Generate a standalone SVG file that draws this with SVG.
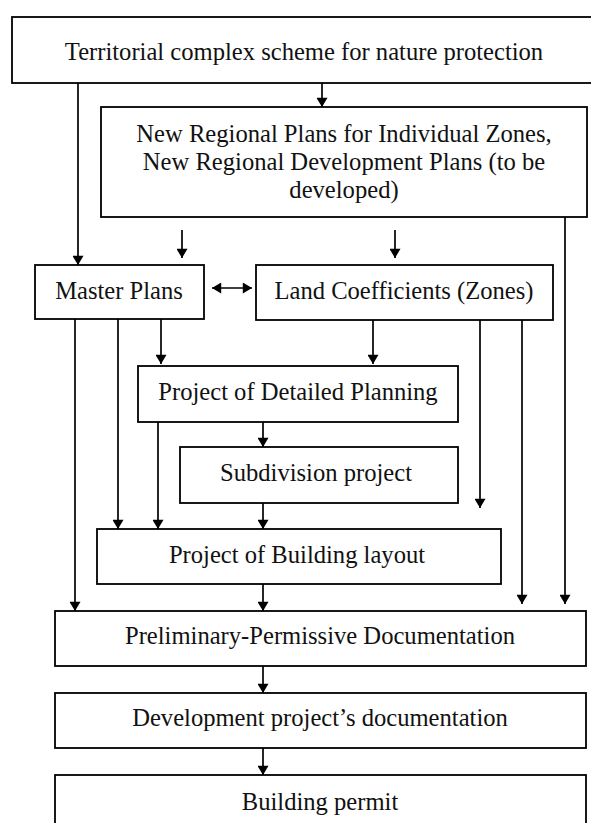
<svg xmlns="http://www.w3.org/2000/svg" width="591" height="823" viewBox="0 0 591 823">
<style>
.box{fill:#fff;stroke:#000;stroke-width:1.8}
.t{font-family:"Liberation Serif","Times New Roman",serif;font-size:24.6px;fill:#111;text-anchor:middle;dominant-baseline:central}
.c{stroke:#000;stroke-width:1.7;fill:none}
.a{marker-end:url(#ah)}
</style>
<defs>
<marker id="ah" viewBox="0 0 10 12" refX="10" refY="6" markerWidth="12" markerHeight="11" markerUnits="userSpaceOnUse" orient="auto-start-reverse">
<path d="M0,0 L10,6 L0,12 z" fill="#000"/>
</marker>
</defs>
<rect width="591" height="823" fill="#fff"/>
<g id="connectors">
<line class="c a" x1="322" y1="83" x2="322" y2="107"/>
<line class="c a" x1="78" y1="83" x2="78" y2="265"/>
<line class="c a" x1="182" y1="230" x2="182" y2="258"/>
<line class="c a" x1="395" y1="230" x2="395" y2="258"/>
<line class="c a" x1="565" y1="217" x2="565" y2="604"/>
<line class="c a" x1="212" y1="288" x2="252" y2="288" style="marker-start:url(#ah)"/>
<line class="c a" x1="75" y1="319" x2="75" y2="611"/>
<line class="c a" x1="118" y1="319" x2="118" y2="529"/>
<line class="c a" x1="161" y1="319" x2="161" y2="364"/>
<line class="c a" x1="373" y1="320" x2="373" y2="364"/>
<line class="c a" x1="480" y1="320" x2="480" y2="508"/>
<line class="c a" x1="522" y1="320" x2="522" y2="604"/>
<line class="c a" x1="158" y1="422" x2="158" y2="529"/>
<line class="c a" x1="263" y1="422" x2="263" y2="447"/>
<line class="c a" x1="263" y1="503" x2="263" y2="529"/>
<line class="c a" x1="263" y1="584" x2="263" y2="611"/>
<line class="c a" x1="263" y1="666" x2="263" y2="693"/>
<line class="c a" x1="263" y1="748" x2="263" y2="775"/>
</g>
<g id="territorial">
<rect class="box" x="12" y="17" width="590" height="66"/>
<text class="t" x="304" y="51">Territorial complex scheme for nature protection</text>
</g>
<g id="regional">
<rect class="box" x="101" y="107" width="486" height="110"/>
<text class="t" x="344" y="133">New Regional Plans for Individual Zones,</text>
<text class="t" x="344" y="161">New Regional Development Plans (to be</text>
<text class="t" x="344" y="189">developed)</text>
</g>
<g id="master">
<rect class="box" x="35" y="265" width="169" height="54"/>
<text class="t" x="119" y="290">Master Plans</text>
</g>
<g id="land">
<rect class="box" x="256" y="265" width="297" height="55"/>
<text class="t" x="404" y="290">Land Coefficients (Zones)</text>
</g>
<g id="detailed">
<rect class="box" x="138" y="366" width="320" height="56"/>
<text class="t" x="298" y="391">Project of Detailed Planning</text>
</g>
<g id="subdivision">
<rect class="box" x="180" y="447" width="278" height="56"/>
<text class="t" x="316" y="472">Subdivision project</text>
</g>
<g id="layout">
<rect class="box" x="97" y="529" width="404" height="55"/>
<text class="t" x="297" y="554">Project of Building layout</text>
</g>
<g id="preliminary">
<rect class="box" x="55" y="611" width="531" height="55"/>
<text class="t" x="320" y="635">Preliminary-Permissive Documentation</text>
</g>
<g id="development">
<rect class="box" x="55" y="693" width="531" height="55"/>
<text class="t" x="320" y="717">Development project’s documentation</text>
</g>
<g id="permit">
<rect class="box" x="55" y="775" width="531" height="60"/>
<text class="t" x="320" y="801">Building permit</text>
</g>
</svg>
